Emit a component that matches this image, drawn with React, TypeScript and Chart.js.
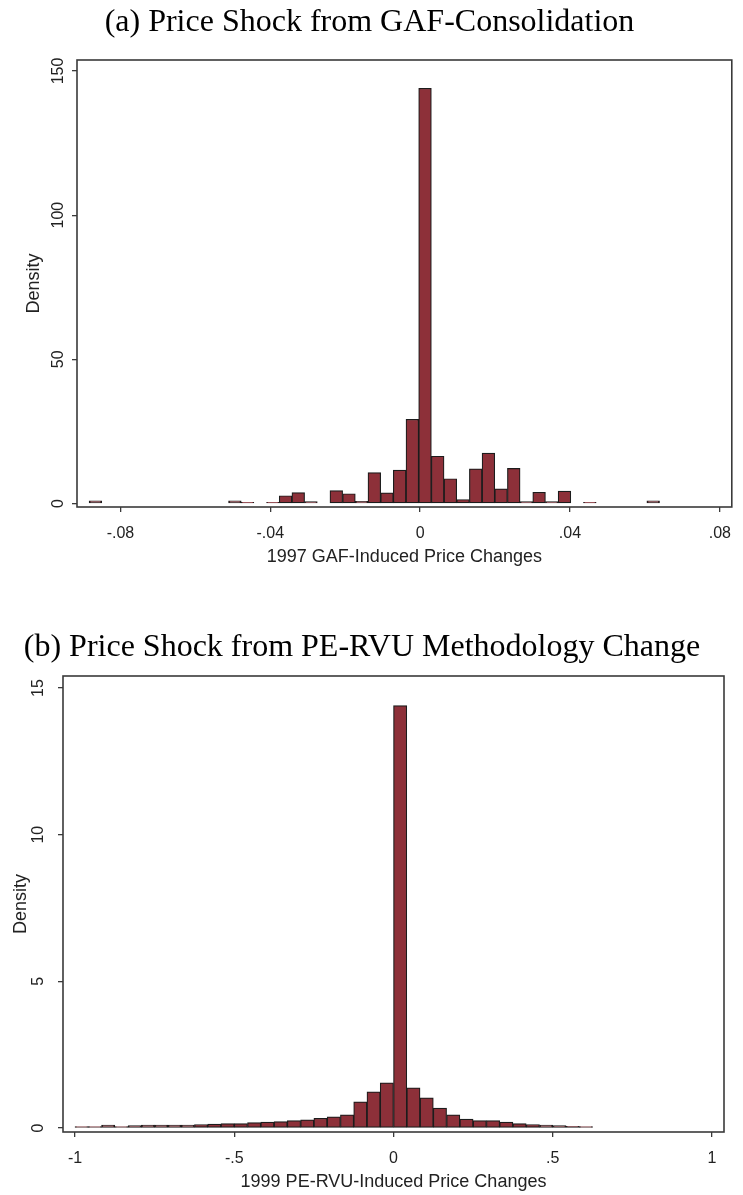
import React, { useEffect, useRef } from 'react';
import { Chart, registerables } from 'chart.js';

Chart.register(...registerables);

// ---------- Panel (a): GAF-Consolidation ----------
const gafTitle = '(a) Price Shock from GAF-Consolidation';
const gafXTitle = '1997 GAF-Induced Price Changes';
const gafBinStart = -0.08837;
const gafBinWidth = 0.003384;
const gafDensity = [
  0.9, 0, 0, 0, 0, 0, 0, 0, 0, 0, 0, 0.9, 0.4, 0, 0.4, 2.7, 3.8, 0.7, 0, 4.5,
  3.4, 0.8, 10.7, 3.7, 11.6, 29.2, 144, 16.4, 8.6, 1.4, 12.0, 17.5, 5.1, 12.2, 0.7, 3.9,
  0.7, 4.3, 0, 0.4, 0, 0, 0, 0, 0.9,
];
const gafXTicks = [-0.08, -0.04, 0, 0.04, 0.08];
const gafXTickLabels = ['-.08', '-.04', '0', '.04', '.08'];
const gafYTicks = [0, 50, 100, 150];
const gafYTickLabels = ['0', '50', '100', '150'];

// ---------- Panel (b): PE-RVU Methodology Change ----------
const rvuTitle = '(b) Price Shock from PE-RVU Methodology Change';
const rvuXTitle = '1999 PE-RVU-Induced Price Changes';
const rvuBinStart = -1.0;
const rvuBinWidth = 0.041667;
const rvuDensity = [
  0.05, 0.05, 0.1, 0.05, 0.08, 0.1, 0.1, 0.1, 0.1, 0.12, 0.13, 0.15, 0.15, 0.18,
  0.2, 0.22, 0.25, 0.28, 0.33, 0.38, 0.45, 0.89, 1.23, 1.54, 14.4, 1.37, 1.03, 0.68,
  0.45, 0.3, 0.25, 0.25, 0.2, 0.15, 0.12, 0.1, 0.08, 0.06, 0.05,
];
const rvuXTicks = [-1, -0.5, 0, 0.5, 1];
const rvuXTickLabels = ['-1', '-.5', '0', '.5', '1'];
const rvuYTicks = [0, 5, 10, 15];
const rvuYTickLabels = ['0', '5', '10', '15'];

const BAR_FILL = '#8D3039';
const BAR_EDGE = '#1c1c1c';
const AXIS_COLOR = '#3a3a3a';
const TEXT_COLOR = '#222';
const SANS = "'Liberation Sans', Arial, sans-serif";
const SERIF = "'Liberation Serif', 'Times New Roman', serif";

type PanelSpec = {
  title: string;
  xTitle: string;
  binStart: number;
  binWidth: number;
  density: number[];
  xTicks: number[];
  xTickLabels: string[];
  yTicks: number[];
  yTickLabels: string[];
  xMin: number;
  xMax: number;
  yMin: number;
  yMax: number;
  height: number;
  areaLeft: number;
  areaRight: number;
  titleCenter: number;
  areaTop: number;
  areaBottom: number;
  xTitleCenter: number;
  yTitleCenter: number;
  yLabelCenter: number;
};

const W = 743;
const TITLE_SIZE = 32;
const TICK_SIZE = 16;
const AXTITLE_SIZE = 18;

const panelA: PanelSpec = {
  title: gafTitle,
  xTitle: gafXTitle,
  binStart: gafBinStart,
  binWidth: gafBinWidth,
  density: gafDensity,
  xTicks: gafXTicks,
  xTickLabels: gafXTickLabels,
  yTicks: gafYTicks,
  yTickLabels: gafYTickLabels,
  xMin: -0.0916,
  xMax: 0.0832,
  yMin: -1.2,
  yMax: 153.8,
  height: 590,
  areaLeft: 77,
  areaRight: 739,
  titleCenter: 23,
  areaTop: 60,
  areaBottom: 507,
  xTitleCenter: 557,
  yTitleCenter: 34.5,
  yLabelCenter: 59,
};

const panelB: PanelSpec = {
  title: rvuTitle,
  xTitle: rvuXTitle,
  binStart: rvuBinStart,
  binWidth: rvuBinWidth,
  density: rvuDensity,
  xTicks: rvuXTicks,
  xTickLabels: rvuXTickLabels,
  yTicks: rvuYTicks,
  yTickLabels: rvuYTickLabels,
  xMin: -1.0377,
  xMax: 1.0377,
  yMin: -0.137,
  yMax: 15.41,
  height: 605,
  areaLeft: 63,
  areaRight: 724,
  titleCenter: 58,
  areaTop: 86,
  areaBottom: 542,
  xTitleCenter: 592,
  yTitleCenter: 21,
  yLabelCenter: 39,
};

function makeConfig(p: PanelSpec): any {
  const titleLH = TITLE_SIZE * 1.2;
  const titlePadTop = p.titleCenter - titleLH / 2;
  const titlePadBottom = p.areaTop - titlePadTop - titleLH;
  const axLH = AXTITLE_SIZE * 1.2;
  const xScaleHeight = p.height - p.areaBottom;
  const xTitlePadBottom = p.height - p.xTitleCenter - axLH / 2;

  const framePlugin = {
    id: 'frameAndYLabels',
    afterDatasetsDraw(chart: any) {
      const { ctx, chartArea } = chart;
      ctx.save();
      ctx.strokeStyle = AXIS_COLOR;
      ctx.lineWidth = 1.6;
      ctx.strokeRect(chartArea.left, chartArea.top, chartArea.right - chartArea.left, chartArea.bottom - chartArea.top);
      const yScale = chart.scales.y;
      ctx.fillStyle = TEXT_COLOR;
      ctx.font = `${TICK_SIZE}px ${SANS}`;
      ctx.textAlign = 'center';
      ctx.textBaseline = 'middle';
      p.yTicks.forEach((v, i) => {
        const py = yScale.getPixelForValue(v);
        ctx.save();
        ctx.translate(p.yLabelCenter, py);
        ctx.rotate(-Math.PI / 2);
        ctx.fillText(p.yTickLabels[i], 0, 0);
        ctx.restore();
      });
      ctx.restore();
    },
  };

  const data = p.density.map((v, i) => ({
    x: p.binStart + (i + 0.5) * p.binWidth,
    y: v === 0 ? null : v,
  }));

  return {
    type: 'bar',
    data: {
      datasets: [
        {
          data,
          backgroundColor: BAR_FILL,
          borderColor: BAR_EDGE,
          borderWidth: 1.2,
          borderSkipped: false,
          barPercentage: 1,
          categoryPercentage: 1,
        },
      ],
    },
    options: {
      animation: false,
      responsive: false,
      maintainAspectRatio: false,
      layout: { padding: { left: 0, right: W - p.areaRight, top: 0, bottom: 0 } },
      plugins: {
        legend: { display: false },
        tooltip: { enabled: false },
        title: {
          display: true,
          text: p.title,
          color: '#000',
          font: { family: SERIF, size: TITLE_SIZE, weight: 'normal', lineHeight: 1.2 },
          padding: { top: titlePadTop, bottom: titlePadBottom },
        },
      },
      scales: {
        x: {
          type: 'linear',
          min: p.xMin,
          max: p.xMax,
          offset: false,
          afterBuildTicks: (s: any) => {
            s.ticks = p.xTicks.map((v) => ({ value: v }));
          },
          afterFit: (s: any) => {
            s.height = xScaleHeight;
          },
          ticks: {
            autoSkip: false,
            maxRotation: 0,
            minRotation: 0,
            padding: 12,
            color: TEXT_COLOR,
            font: { family: SANS, size: TICK_SIZE },
            callback: (val: number) => {
              const idx = p.xTicks.findIndex((t) => Math.abs(t - val) < 1e-9);
              return idx >= 0 ? p.xTickLabels[idx] : '';
            },
          },
          grid: {
            offset: false,
            drawOnChartArea: false,
            drawTicks: true,
            tickLength: 5,
            color: AXIS_COLOR,
            lineWidth: 1.3,
          },
          border: { display: false },
          title: {
            display: true,
            text: p.xTitle,
            color: TEXT_COLOR,
            font: { family: SANS, size: AXTITLE_SIZE, lineHeight: 1.2 },
            padding: { top: 0, bottom: xTitlePadBottom },
          },
        },
        y: {
          type: 'linear',
          min: p.yMin,
          max: p.yMax,
          afterBuildTicks: (s: any) => {
            s.ticks = p.yTicks.map((v) => ({ value: v }));
          },
          afterFit: (s: any) => {
            s.width = p.areaLeft;
          },
          ticks: { display: false },
          grid: {
            drawOnChartArea: false,
            drawTicks: true,
            tickLength: 5,
            color: AXIS_COLOR,
            lineWidth: 1.3,
          },
          border: { display: false },
          title: {
            display: true,
            text: 'Density',
            color: TEXT_COLOR,
            font: { family: SANS, size: AXTITLE_SIZE, lineHeight: 1.2 },
            padding: { top: p.yTitleCenter - axLH / 2, bottom: 0 },
          },
        },
      },
    },
    plugins: [framePlugin],
  };
}

function Panel({ spec, top }: { spec: PanelSpec; top: number }) {
  const ref = useRef<HTMLCanvasElement | null>(null);
  useEffect(() => {
    if (!ref.current) return;
    const chart = new Chart(ref.current, makeConfig(spec));
    return () => chart.destroy();
  }, [spec]);
  return (
    <div style={{ position: 'absolute', left: 0, top, width: W, height: spec.height }}>
      <canvas ref={ref} width={W} height={spec.height} style={{ width: W, height: spec.height, display: 'block' }} />
    </div>
  );
}

export default function App() {
  useEffect(() => {
    document.body.style.margin = '0';
    document.body.style.background = '#fff';
  }, []);
  return (
    <div style={{ position: 'relative', width: W, height: 1195, background: '#fff', overflow: 'hidden' }}>
      <Panel spec={panelA} top={0} />
      <Panel spec={panelB} top={590} />
    </div>
  );
}
